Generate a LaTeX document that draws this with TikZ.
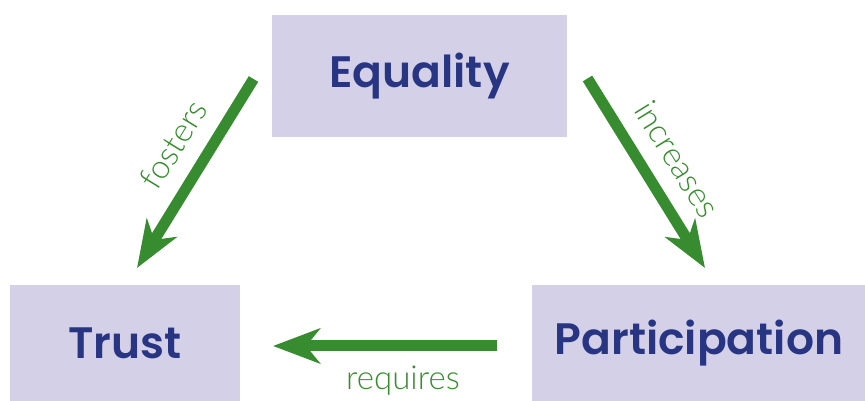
\documentclass[tikz,border=0pt]{standalone}
\usepackage{fontspec}
\setmainfont{Poppins}[BoldFont={Poppins SemiBold}]
\newfontfamily\labelfont{Lato Light}
\usepackage{tikz}
\usetikzlibrary{arrows.meta,positioning}

\definecolor{boxfill}{RGB}{212,208,232}
\definecolor{boxtext}{RGB}{40,53,131}
\definecolor{linkgreen}{RGB}{56,140,48}

\begin{document}
\begin{tikzpicture}[x=1pt,y=1pt,>={Stealth[length=47pt,width=35pt,inset=14pt]},auto]
      \tikzstyle{value}=[fill=boxfill,text=boxtext,inner sep=0pt,
        font=\fontsize{44}{53}\selectfont\bfseries]
      \tikzstyle{link}=[->,draw=linkgreen,line width=11pt]
      \tikzstyle{verb}=[text=linkgreen,font=\labelfont\fontsize{33}{40}\selectfont]

      \useasboundingbox (0,0) rectangle (865,401);

      \node[value,minimum width=295pt,minimum height=122pt] (eq) at (419.5,325) {Equality};
      \node[value,minimum width=230pt,minimum height=116pt] (tr) at (125,58) {Trust};
      \node[value,minimum width=333pt,minimum height=116pt] (pa) [right=292pt of tr] {Participation};

      % free ends of the arrows
      \coordinate (eqL) at (253.5,322);
      \coordinate (trT) at (137,133);
      \coordinate (eqR) at (587.5,322.5);
      \coordinate (paT) at (705,133);
      \coordinate (paL) at (497,55);
      \coordinate (trR) at (273,55);

      \path (eqL) edge[link] node[verb,sloped,above=13pt,pos=0.44] {fosters} (trT)
            (eqR) edge[link] node[verb,sloped,above=13pt,pos=0.52] {increases} (paT)
            (paL) edge[link] node[verb,below=11pt,pos=0.42] {requires} (trR);
    \end{tikzpicture}
\end{document}
